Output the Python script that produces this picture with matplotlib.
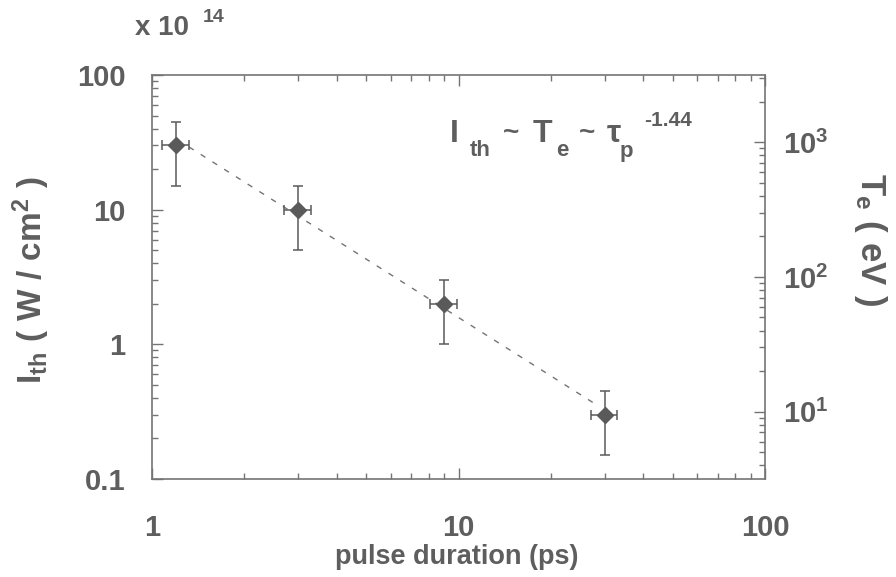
import numpy as np
import matplotlib
matplotlib.use("Agg")
import matplotlib.pyplot as plt
from matplotlib.ticker import FixedLocator, FixedFormatter, LogLocator, NullFormatter

# ---- data -------------------------------------------------------------
pulse_ps = [1.2, 3.0, 9.0, 30.0]            # pulse duration (ps)
pulse_err = [0.12, 0.3, 0.9, 3.0]           # +/- 10 %
ith = [30.0, 10.0, 2.0, 0.3]                # threshold intensity (x 1e14 W/cm^2)
ith_err = [15.0, 5.0, 1.0, 0.15]            # +/- 50 %
fit_exponent = -1.44
fit_span = [1.32, 27.9]                      # extent of the drawn fit line (ps)

x_ticks = [1, 10, 100]
x_ticklabels = ["1", "10", "100"]
y_ticks = [0.1, 1, 10, 100]
y_ticklabels = ["0.1", "1", "10", "100"]
te_ticks = [10, 100, 1000]
te_ticklabels = [r"$\mathregular{10^{1}}$", r"$\mathregular{10^{2}}$", r"$\mathregular{10^{3}}$"]
te_per_ith = 31.6                           # eV per 1e14 W/cm^2 on the right scale

# ---- style ------------------------------------------------------------
TXT = "#5e5e5e"
LINE = "#747474"
MARK = "#5a5a5a"
plt.rcParams["font.family"] = ["Liberation Sans", "DejaVu Sans"]
plt.rcParams["font.weight"] = "bold"
plt.rcParams["mathtext.fontset"] = "custom"
plt.rcParams["mathtext.rm"] = "Liberation Sans:bold"
plt.rcParams["mathtext.it"] = "Liberation Sans:bold"
plt.rcParams["mathtext.bf"] = "Liberation Sans:bold"
plt.rcParams["mathtext.sf"] = "Liberation Sans:bold"

W, H = 896, 577
fig = plt.figure(figsize=(W / 100, H / 100), dpi=100)
L, R, T, B = 152, 765, 75, 479
ax = fig.add_axes([L / W, 1 - B / H, (R - L) / W, (B - T) / H])

ax.set_xscale("log")
ax.set_yscale("log")
ax.set_xlim(1, 100)
ax.set_ylim(0.1, 100)

# fit line  I = A * t^-1.44, amplitude from least squares in log space
logA = np.mean(np.log10(ith) - fit_exponent * np.log10(pulse_ps))
tt = np.logspace(np.log10(fit_span[0]), np.log10(fit_span[1]), 50)
ax.plot(tt, 10 ** logA * tt ** fit_exponent, color=LINE, lw=1.0,
        dashes=(4, 6), zorder=2)

ax.errorbar(pulse_ps, ith, xerr=pulse_err, yerr=ith_err, fmt="D",
            color=MARK, ms=8.5, mec=MARK, mfc=MARK, ecolor=MARK,
            elinewidth=1.1, capsize=3.5, capthick=1.1, zorder=3)

for s in ax.spines.values():
    s.set_color(LINE)
    s.set_linewidth(1.2)

ax.xaxis.set_major_locator(FixedLocator(x_ticks))
ax.xaxis.set_major_formatter(FixedFormatter(x_ticklabels))
ax.xaxis.set_minor_locator(LogLocator(base=10, subs=np.arange(2, 10)))
ax.xaxis.set_minor_formatter(NullFormatter())
ax.yaxis.set_major_locator(FixedLocator(y_ticks))
ax.yaxis.set_major_formatter(FixedFormatter(y_ticklabels))
ax.yaxis.set_minor_locator(LogLocator(base=10, subs=np.arange(2, 10)))
ax.yaxis.set_minor_formatter(NullFormatter())

ax.tick_params(axis="both", which="both", direction="in", color=LINE,
               labelcolor=TXT, labelsize=21, width=1.0)
ax.tick_params(axis="both", which="major", length=8)
ax.tick_params(axis="both", which="minor", length=4)
ax.tick_params(axis="x", which="both", top=True, pad=25)
ax.tick_params(axis="y", which="both", right=False, pad=19)

# right-hand electron temperature scale
ax2 = ax.twinx()
ax2.set_yscale("log")
ax2.set_ylim(0.1 * te_per_ith, 100 * te_per_ith)
ax2.yaxis.set_major_locator(FixedLocator(te_ticks))
ax2.yaxis.set_major_formatter(FixedFormatter(te_ticklabels))
ax2.yaxis.set_minor_locator(LogLocator(base=10, subs=np.arange(2, 10)))
ax2.yaxis.set_minor_formatter(NullFormatter())
ax2.tick_params(axis="y", which="both", direction="in", color=LINE,
                labelcolor=TXT, labelsize=21, width=1.0, pad=13)
ax2.tick_params(axis="y", which="major", length=8)
ax2.tick_params(axis="y", which="minor", length=4)
for s in ax2.spines.values():
    s.set_visible(False)


def ftext(x, y, s, size, va="baseline", ha="left", **kw):
    fig.text(x / W, 1 - y / H, s, fontsize=size, color=TXT,
             fontweight="bold", va=va, ha=ha, **kw)


# axis titles
ftext(457, 557, "pulse duration (ps)", 19.5, va="center", ha="center")
ftext(31, 280, r"$\mathrm{I_{th}\ (\ W\ /\ cm^{2}\ )}$", 24,
      va="center", ha="center", rotation=90)
ftext(870, 239, r"$\mathrm{T_{e}\ (\ eV\ )}$", 25,
      va="center", ha="center", rotation=270)

# intensity multiplier
ftext(135, 35, "x 10", 20)
ftext(203, 22, "14", 14)

# scaling law
ftext(450, 142, "I", 23)
ftext(470, 156, "th", 16)
ftext(503, 140, "~", 20)
ftext(533, 142, "T", 23)
ftext(556, 156, "e", 16)
ftext(579, 140, "~", 20)
ftext(607, 142, "\u03c4", 23)
ftext(620, 157, "p", 16)
ftext(644, 126, "-1.44", 15)

fig.savefig("out.png", dpi=100)
